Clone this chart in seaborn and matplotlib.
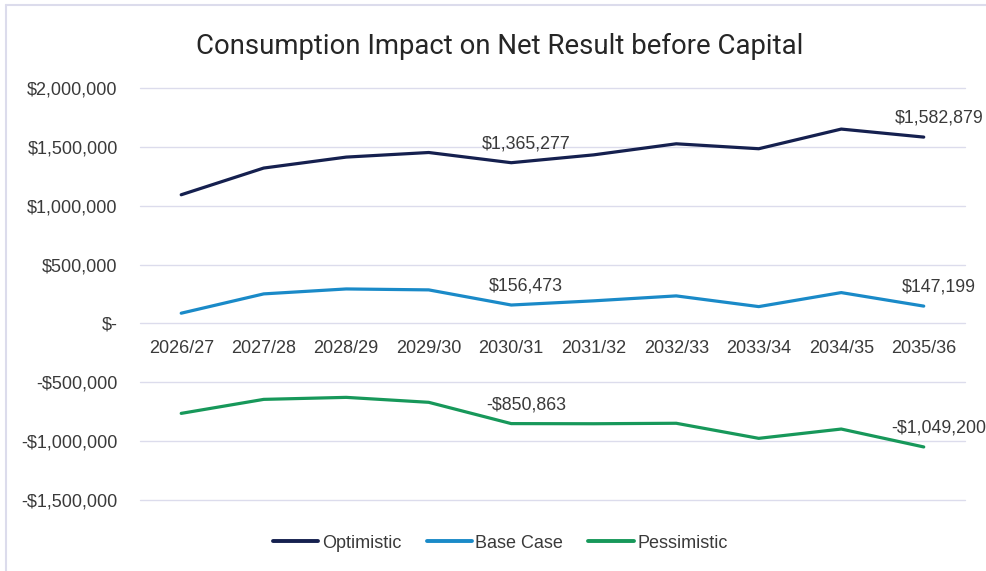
import matplotlib
matplotlib.use("Agg")
import matplotlib.pyplot as plt
from matplotlib.lines import Line2D
import seaborn as sns
import pandas as pd

# Financial years on the category axis
years = ["2026/27", "2027/28", "2028/29", "2029/30", "2030/31",
         "2031/32", "2032/33", "2033/34", "2034/35", "2035/36"]

# Net result impact per scenario ($)
optimistic = [1093000, 1320000, 1413000, 1452000, 1365277,
              1432000, 1526000, 1484000, 1651000, 1582879]
base_case = [87000, 251000, 293000, 285000, 156473,
             192000, 234000, 143000, 262000, 147199]
pessimistic = [-764000, -645000, -628000, -670000, -850863,
               -852000, -848000, -976000, -897000, -1049200]

scenarios = ["Optimistic", "Base Case", "Pessimistic"]
colors = ["#15204f", "#1a8ac8", "#17985a"]

# Years that carry a value label
labelled_years = ["2030/31", "2035/36"]

# Value axis ticks
y_ticks = [2000000, 1500000, 1000000, 500000, 0, -500000, -1000000, -1500000]


def money(v):
    if v == 0:
        return "$-"
    sign = "-" if v < 0 else ""
    return f"{sign}${abs(v):,.0f}"


df = pd.DataFrame({
    "Year": years * 3,
    "Value": optimistic + base_case + pessimistic,
    "Scenario": [s for s in scenarios for _ in years],
})

sns.set_style("white")
plt.rcParams["font.family"] = ["Liberation Sans", "DejaVu Sans"]

fig = plt.figure(figsize=(9.87, 5.71), dpi=100)
ax = fig.add_axes([0.1418, 0.1243, 0.8359, 0.7216])

sns.lineplot(data=df, x="Year", y="Value", hue="Scenario",
             hue_order=scenarios, palette=colors, linewidth=2.3,
             sort=False, ax=ax, legend=False)

ax.set_xlim(-0.5, len(years) - 0.5)
ax.set_ylim(min(y_ticks), max(y_ticks))
ax.set_yticks(y_ticks)
ax.set_yticklabels([money(v) for v in y_ticks])
ax.yaxis.grid(True, color="#dcdcec", linewidth=1.0)
ax.xaxis.grid(False)
ax.set_axisbelow(True)
# keep the gridlines at the axis limits fully visible
for gl in ax.get_ygridlines():
    gl.set_clip_on(False)

for side in ["left", "right", "top", "bottom"]:
    ax.spines[side].set_visible(False)
# category labels sit on the zero line
ax.spines["bottom"].set_position(("data", 0))
ax.tick_params(axis="x", length=0, pad=12, labelsize=13, labelcolor="#3a3a3a")
ax.tick_params(axis="y", length=0, pad=16, labelsize=13, labelcolor="#3a3a3a")
ax.set_xlabel("")
ax.set_ylabel("")

# value labels
for name, series in zip(scenarios, [optimistic, base_case, pessimistic]):
    for yr in labelled_years:
        i = years.index(yr)
        ax.annotate(money(series[i]), xy=(i, series[i]),
                    xytext=(15, 19), textcoords="offset pixels",
                    ha="center", va="center", fontsize=12.8,
                    color="#3a3a3a")

fig.text(0.506, 1 - 46 / 571, "Consumption Impact on Net Result before Capital",
         ha="center", va="center", fontsize=19.8, color="#262626",
         family=["Roboto", "DejaVu Sans"])

handles = [Line2D([0], [0], color=c, linewidth=2.8) for c in colors]
fig.legend(handles, scenarios, loc="center", bbox_to_anchor=(0.507, 1 - 543 / 571),
           ncol=3, frameon=False, fontsize=13, handlelength=2.5,
           handletextpad=0.2, columnspacing=1.4, labelcolor="#3a3a3a")

# chart area frame (top and left edges)
frame_color = "#dcdcec"
fig.add_artist(Line2D([6 / 987, 6 / 987], [0, 1 - 5 / 571],
                      transform=fig.transFigure, color=frame_color, linewidth=1.5))
fig.add_artist(Line2D([6 / 987, 1], [1 - 5 / 571, 1 - 5 / 571],
                      transform=fig.transFigure, color=frame_color, linewidth=1.5))

fig.savefig("out.png", dpi=100, facecolor="white")
